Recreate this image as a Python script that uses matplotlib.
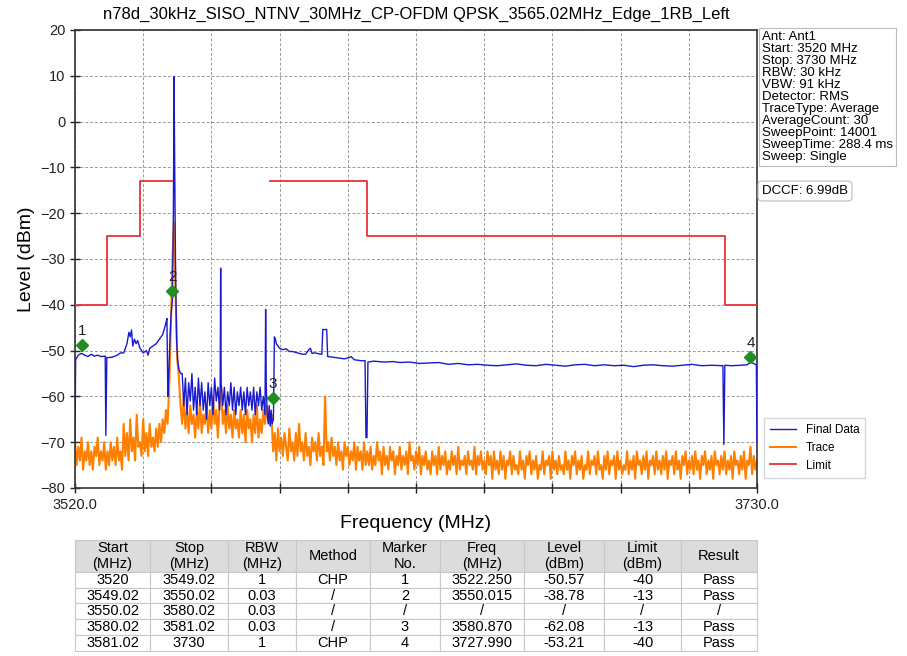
import numpy as np
import matplotlib
matplotlib.use("Agg")
import matplotlib.pyplot as plt
import matplotlib.transforms as mtransforms

plt.rcParams['font.family'] = ['Liberation Sans', 'DejaVu Sans']

TITLE = "n78d_30kHz_SISO_NTNV_30MHz_CP-OFDM QPSK_3565.02MHz_Edge_1RB_Left"
F_START, F_STOP = 3520.0, 3730.0

# ---- Limit line (segments: start, stop, level) ----
limit_start = [3520.0, 3530.0, 3540.0, 3580.02, 3610.0, 3720.0]
limit_stop = [3530.0, 3540.0, 3550.02, 3610.0, 3720.0, 3730.0]
limit_level = [-40, -25, -13, -13, -25, -40]
# break between 3550.02 and 3580.02 (no limit)

# ---- Final Data (blue) ----
blue_freq = [
    3520.0, 3520.2, 3521, 3522, 3523, 3524, 3525, 3526, 3527, 3528, 3529.3, 3529.5, 3529.8,
    3531, 3532, 3533, 3534, 3535, 3536, 3536.6, 3537, 3537.4, 3537.8, 3538.3, 3538.8, 3539.3,
    3540, 3541, 3542, 3542.5, 3543, 3544, 3545, 3546, 3547, 3548.0, 3548.3, 3548.6, 3548.9,
    3549.2, 3549.6, 3550.0, 3550.3, 3550.5, 3550.7, 3551.0, 3551.3, 3551.6, 3552.0, 3552.5,
    3553.0, 3553.5, 3554.0, 3554.5, 3555.0, 3555.5, 3556.0, 3556.5, 3557.0, 3557.5, 3558.0,
    3558.5, 3559.0, 3559.5, 3560.0, 3560.5, 3561.0, 3561.5, 3562.0, 3562.5, 3563.0, 3563.5,
    3564.0, 3564.5, 3564.7, 3564.85, 3565.0, 3565.5, 3566.0, 3566.5, 3567.0, 3567.5, 3568.0,
    3568.5, 3569.0, 3569.5, 3570.0, 3570.5, 3571.0, 3571.5, 3572.0, 3572.5, 3573.0, 3573.5,
    3574.0, 3574.5, 3575.0, 3575.5, 3576.0, 3576.5, 3577.0, 3577.5, 3578.0, 3578.5, 3578.7,
    3578.9, 3579.2, 3579.5, 3579.8, 3580.1, 3580.4, 3580.7, 3581.1, 3581.4, 3581.7, 3582,
    3583, 3584, 3585, 3586, 3587, 3588, 3589, 3590, 3591, 3592, 3592.5, 3593, 3594, 3595,
    3596, 3596.3, 3597.5, 3597.8, 3599, 3601, 3603, 3604.5, 3605, 3606, 3608, 3609.3, 3609.6,
    3609.9, 3610.2, 3612, 3615, 3618, 3620, 3623, 3626, 3629, 3632, 3635, 3638, 3641, 3644,
    3647, 3650, 3653, 3656, 3659, 3662, 3665, 3668, 3671, 3674, 3677, 3680, 3683, 3686, 3689,
    3692, 3695, 3698, 3701, 3704, 3707, 3710, 3713, 3716, 3719.5, 3719.8, 3720.1, 3722, 3725,
    3727, 3728, 3729.5, 3729.8, 3730.0,
]
blue_level = [
    -70, -52, -51, -50.6, -51, -51.3, -50.8, -51.2, -51, -51.3, -51.2, -68.5, -51.5,
    -51.5, -51.3, -51, -50.5, -50.5, -48.5, -46, -47, -45.5, -49, -47.5, -48.5, -47.8,
    -49.5, -50.5, -50, -51, -49.5, -49, -48.5, -47.5, -46.5, -44, -43, -60, -55,
    -48, -42, -38.8, -20, 9.8, -10, -35, -48, -52, -54, -55,
    -55, -62, -56, -64, -57, -61, -55, -63, -58, -64, -56,
    -62, -57, -63, -59, -65, -57, -62, -58, -64, -56, -61,
    -58, -63, -58, -32, -57, -62, -58, -64, -59, -62, -57,
    -63, -58, -64, -59, -62, -58, -63, -59, -64, -58, -62,
    -59, -63, -58, -64, -59, -62, -58, -63, -60, -64, -41,
    -58, -64, -66, -62, -66.5, -63, -66, -65, -47, -47.5, -48.5,
    -49.5, -49.8, -49.6, -50.2, -50.2, -50.4, -50.6, -50.8, -50.8, -49.8, -49.5, -50.6, -50.5, -50.7,
    -50.8, -45.4, -45.4, -51.3, -51.4, -51.6, -51.8, -51.5, -51.3, -52, -52.2, -52.2, -69,
    -69, -52.5, -52.3, -52.5, -52.4, -52.6, -52.5, -52.8, -52.7, -52.6, -53, -52.8, -53.1, -53,
    -53.2, -53.3, -53.1, -52.9, -53.2, -53.3, -53, -53.2, -53.4, -53.1, -53, -53.3, -53.1, -53.3,
    -53.2, -53.5, -53.2, -53.1, -53.3, -53.4, -53.2, -53, -53.3, -53.2, -53.3, -70.5, -53.2, -53.3, -53.2,
    -53.1, -52.5, -53, -53, -70,
]

# ---- Trace (orange), sweep grid 3520..3730 every 0.5 MHz ----
trace_level = [
    -70, -75, -71, -74, -69, -76, -72, -74, -70, -75, -72, -76, -71, -73, -69, -75, -72, -74, -70, -76,
    -72, -75, -70, -74, -71, -75, -69, -74, -72, -76, -66, -73, -68, -74, -65, -72, -69, -74, -64, -71,
    -70, -73, -65, -72, -68, -73, -66, -71, -69, -72, -67, -71, -66, -70, -65, -68, -63, -66, -58, -45,
    -30, -22, -38, -52, -56, -62, -66, -60, -67, -63, -68, -62, -66, -64, -69, -63, -67, -61, -68, -64,
    -66, -62, -68, -63, -67, -60, -66, -63, -69, -62, -58, -66, -63, -68, -62, -67, -64, -69, -63, -67,
    -65, -69, -63, -68, -64, -70, -63, -67, -65, -70, -64, -68, -62, -69, -65, -68, -63, -66, -62, -64,
    -66, -64, -72, -68, -74, -67, -72, -69, -73, -68, -71, -74, -67, -72, -70, -74, -68, -73, -66, -72,
    -70, -74, -68, -73, -71, -75, -69, -72, -70, -74, -68, -73, -71, -75, -60, -72, -70, -74, -69, -73,
    -71, -75, -70, -74, -72, -76, -70, -73, -71, -75, -72, -74, -70, -76, -71, -74, -72, -76, -70, -75,
    -72, -75, -71, -76, -73, -75, -70, -74, -72, -77, -71, -75, -73, -76, -71, -74, -72, -77, -73, -75,
    -71, -76, -73, -75, -72, -77, -70, -74, -73, -76, -72, -75, -71, -77, -73, -75, -72, -76, -74, -77,
    -72, -75, -73, -77, -71, -76, -73, -75, -72, -77, -74, -76, -72, -75, -73, -77, -71, -76, -74, -75,
    -73, -77, -72, -75, -74, -76, -71, -77, -73, -75, -72, -76, -74, -77, -72, -75, -73, -78, -72, -76,
    -74, -77, -72, -76, -73, -78, -74, -75, -72, -77, -73, -76, -75, -77, -72, -76, -74, -78, -73, -75,
    -72, -77, -74, -76, -73, -78, -75, -76, -72, -77, -74, -75, -73, -78, -72, -76, -74, -77, -73, -76,
    -75, -77, -72, -76, -74, -78, -73, -75, -72, -77, -74, -76, -73, -78, -75, -76, -72, -77, -74, -75,
    -73, -77, -72, -76, -75, -78, -73, -76, -72, -77, -74, -75, -73, -78, -72, -76, -74, -77, -75, -76,
    -72, -77, -74, -76, -73, -78, -72, -75, -74, -77, -73, -76, -72, -78, -74, -75, -73, -77, -72, -76,
    -74, -77, -73, -76, -72, -78, -74, -75, -73, -77, -72, -76, -74, -78, -73, -75, -72, -77, -74, -76,
    -73, -77, -72, -76, -74, -78, -73, -75, -72, -77, -74, -76, -73, -78, -72, -75, -74, -77, -73, -76,
    -72, -77, -74, -76, -73, -78, -72, -75, -74, -77, -73, -76, -72, -78, -74, -75, -71, -77, -73, -76,
    -74,
]
trace_freq = np.linspace(F_START, F_STOP, len(trace_level))

# ---- Markers ----
marker_no = ["1", "2", "3", "4"]
marker_freq = [3522.250, 3550.015, 3580.870, 3727.990]
marker_level = [-50.57, -38.78, -62.08, -53.21]

# ---- Table ----
col_labels = ["Start\n(MHz)", "Stop\n(MHz)", "RBW\n(MHz)", "Method", "Marker\nNo.",
              "Freq\n(MHz)", "Level\n(dBm)", "Limit\n(dBm)", "Result"]
table_rows = [
    ["3520", "3549.02", "1", "CHP", "1", "3522.250", "-50.57", "-40", "Pass"],
    ["3549.02", "3550.02", "0.03", "/", "2", "3550.015", "-38.78", "-13", "Pass"],
    ["3550.02", "3580.02", "0.03", "/", "/", "/", "/", "/", "/"],
    ["3580.02", "3581.02", "0.03", "/", "3", "3580.870", "-62.08", "-13", "Pass"],
    ["3581.02", "3730", "1", "CHP", "4", "3727.990", "-53.21", "-40", "Pass"],
]
col_widths = [75, 78, 68, 74, 70, 84, 80, 77, 76]

info_text = ("Ant: Ant1\nStart: 3520 MHz\nStop: 3730 MHz\nRBW: 30 kHz\nVBW: 91 kHz\n"
             "Detector: RMS\nTraceType: Average\nAverageCount: 30\nSweepPoint: 14001\n"
             "SweepTime: 288.4 ms\nSweep: Single")
dccf_text = "DCCF: 6.99dB"

W, H = 907, 656
fig = plt.figure(figsize=(W / 100, H / 100), dpi=100)
ax = fig.add_axes([75 / W, 1 - 488 / H, 682 / W, 458 / H])

ax.plot(trace_freq, trace_level, color='#ff8000', lw=1.5, label='Trace', zorder=2)
ax.plot(blue_freq, blue_level, color='#1a1acd', lw=1.0, label='Final Data', zorder=3)
# Draw limit as stepped polylines with the gap
lx1, ly1 = [], []
for s, e, lv in zip(limit_start[:3], limit_stop[:3], limit_level[:3]):
    lx1 += [s, e]
    ly1 += [lv, lv]
lx2, ly2 = [], []
for s, e, lv in zip(limit_start[3:], limit_stop[3:], limit_level[3:]):
    lx2 += [s, e]
    ly2 += [lv, lv]
ax.plot(lx1, ly1, color='#e8303a', lw=1.3, label='Limit', zorder=4)
ax.plot(lx2, ly2, color='#e8303a', lw=1.3, zorder=4)

off = mtransforms.offset_copy(ax.transData, fig=fig, x=0, y=8, units='dots')
ax.plot(marker_freq, marker_level, linestyle='none', marker='D', color='#1f8f1f',
        markersize=6.5, transform=off, zorder=5)
for n, f, l in zip(marker_no, marker_freq, marker_level):
    ax.annotate(n, (f, l), xytext=(0, 11), textcoords='offset points', ha='center',
                va='bottom', fontsize=11, color='#222222', zorder=6)

ax.set_xlim(F_START, F_STOP)
ax.set_ylim(-80, 20)
ax.set_yticks(np.arange(-80, 21, 10))
xt = np.linspace(F_START, F_STOP, 11)
ax.set_xticks(xt)
ax.set_xticklabels([f"{F_START:.1f}"] + [""] * 9 + [f"{F_STOP:.1f}"])
ax.tick_params(direction='inout', length=7, width=1, labelsize=10.5, colors='#222222')
ax.grid(True, linestyle=(0, (3, 2)), color='#999999', lw=0.7)
for sp in ax.spines.values():
    sp.set_color('#333333')
    sp.set_linewidth(1.2)
ax.set_ylabel("Level (dBm)", fontsize=14)
ax.set_xlabel("Frequency (MHz)", fontsize=14, labelpad=2)
ax.set_title(TITLE, fontsize=12, pad=8)

leg = ax.legend(handles=[ax.lines[1], ax.lines[0], ax.lines[2]],
                labels=['Final Data', 'Trace', 'Limit'],
                loc='lower left', bbox_to_anchor=(1.002, 0.01), fontsize=8.5,
                frameon=True, fancybox=False, handlelength=2.2, borderpad=0.5,
                labelspacing=0.5, edgecolor='#cccccc')

fig.text(762 / W, 1 - 31 / H, info_text, fontsize=9.5, va='top', ha='left',
         linespacing=1.0,
         bbox=dict(boxstyle='square,pad=0.25', fc='white', ec='#bbbbbb', lw=0.8))
fig.text(762 / W, 1 - 191 / H, dccf_text, fontsize=9.5, va='center', ha='left',
         bbox=dict(boxstyle='round,pad=0.3', fc='white', ec='#bbbbbb', lw=0.8))

# Table
tax = fig.add_axes([75 / W, 1 - 651 / H, 682 / W, 111 / H])
tax.axis('off')
cw = [c / sum(col_widths) for c in col_widths]
tbl = tax.table(cellText=table_rows, colLabels=col_labels, colWidths=cw,
                cellLoc='center', bbox=[0, 0, 1, 1])
tbl.auto_set_font_size(False)
tbl.set_fontsize(10.5)
for (r, c), cell in tbl.get_celld().items():
    cell.set_edgecolor('#c8c8c8')
    cell.set_linewidth(0.8)
    if r == 0:
        cell.set_facecolor('#dcdcdc')
        cell.set_height(2.0)
    else:
        cell.set_height(1.0)
    cell.PAD = 0.02

fig.savefig("out.png", dpi=100)
